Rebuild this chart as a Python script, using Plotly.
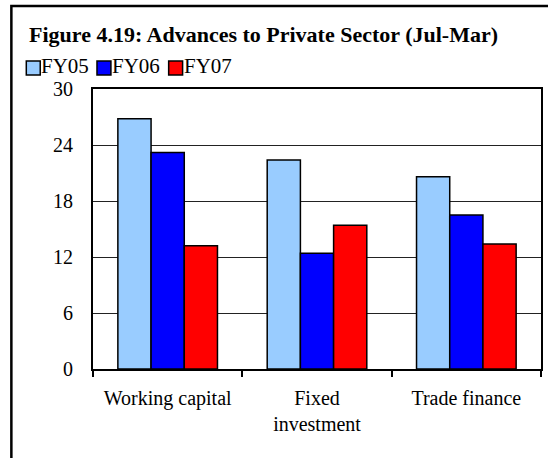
import plotly.graph_objects as go

categories = ["Working capital", "Fixed investment", "Trade finance"]
tick_labels = ["Working capital", "Fixed<br>investment", "Trade finance"]
series_names = ["FY05", "FY06", "FY07"]
fy05 = [26.8, 22.4, 20.6]
fy06 = [23.2, 12.4, 16.5]
fy07 = [13.2, 15.4, 13.4]
y_ticks = [0, 6, 12, 18, 24, 30]
colors = ["#99CCFF", "#0000FF", "#FF0000"]
title_text = "Figure 4.19: Advances to Private Sector (Jul-Mar)"

W, H = 548, 458
L, R, T, B = 93, 5, 89, 89
PW, PH = W - L - R, H - T - B
FONT = "Liberation Serif"


def px(x):
    return (x - L) / PW


def py(y):
    return (H - B - y) / PH


fig = go.Figure()
for name, vals, col in zip(series_names, [fy05, fy06, fy07], colors):
    fig.add_trace(go.Bar(
        x=categories, y=vals, name=name,
        marker=dict(color=col, line=dict(color="#000000", width=1.5)),
    ))

shapes = [
    # outer frame (cut off on right and bottom)
    dict(type="rect", xref="paper", yref="paper",
         x0=px(11), x1=px(W + 20), y0=py(H + 20), y1=py(6),
         line=dict(color="#000000", width=2.5), fillcolor="rgba(0,0,0,0)", layer="above"),
]
annotations = [
    dict(text="<b>" + title_text + "</b>", xref="paper", yref="paper",
         x=px(27), y=py(34), xanchor="left", yanchor="middle", showarrow=False,
         font=dict(family=FONT, size=22, color="#000000")),
]

# custom legend
sq_x = [26, 97, 169]
for name, col, sx in zip(series_names, colors, sq_x):
    shapes.append(dict(type="rect", xref="paper", yref="paper",
                       x0=px(sx), x1=px(sx + 14), y0=py(75), y1=py(61),
                       line=dict(color="#000000", width=1.5), fillcolor=col))
    annotations.append(dict(text=name, xref="paper", yref="paper",
                            x=px(sx + 14), y=py(66), xanchor="left", yanchor="middle",
                            showarrow=False, borderpad=0,
                            font=dict(family=FONT, size=21, color="#000000")))

fig.update_layout(
    width=W, height=H,
    margin=dict(l=L, r=R, t=T, b=B, pad=0),
    paper_bgcolor="#FFFFFF", plot_bgcolor="#FFFFFF",
    barmode="group", bargap=0.333, bargroupgap=0,
    showlegend=False,
    font=dict(family=FONT, size=20, color="#000000"),
    shapes=shapes, annotations=annotations,
)
fig.update_xaxes(
    type="category", tickmode="array", tickvals=categories, ticktext=tick_labels,
    tickson="boundaries", ticks="outside", ticklen=6, tickwidth=2, tickcolor="#000000",
    ticklabelstandoff=10,
    showline=True, linecolor="#000000", linewidth=2, mirror=True,
    showgrid=False, tickfont=dict(family=FONT, size=20, color="#000000"),
)
fig.update_yaxes(
    range=[0, 30], tickmode="array", tickvals=y_ticks, ticks="",
    ticklabelstandoff=14,
    showline=True, linecolor="#000000", linewidth=2, mirror=True,
    showgrid=True, gridcolor="#222222", gridwidth=1, zeroline=False,
    tickfont=dict(family=FONT, size=20, color="#000000"),
)

fig.write_html(
    "out.html",
    config={"displayModeBar": False},
    post_script="document.body.style.margin='0';document.body.style.overflow='hidden';",
)
